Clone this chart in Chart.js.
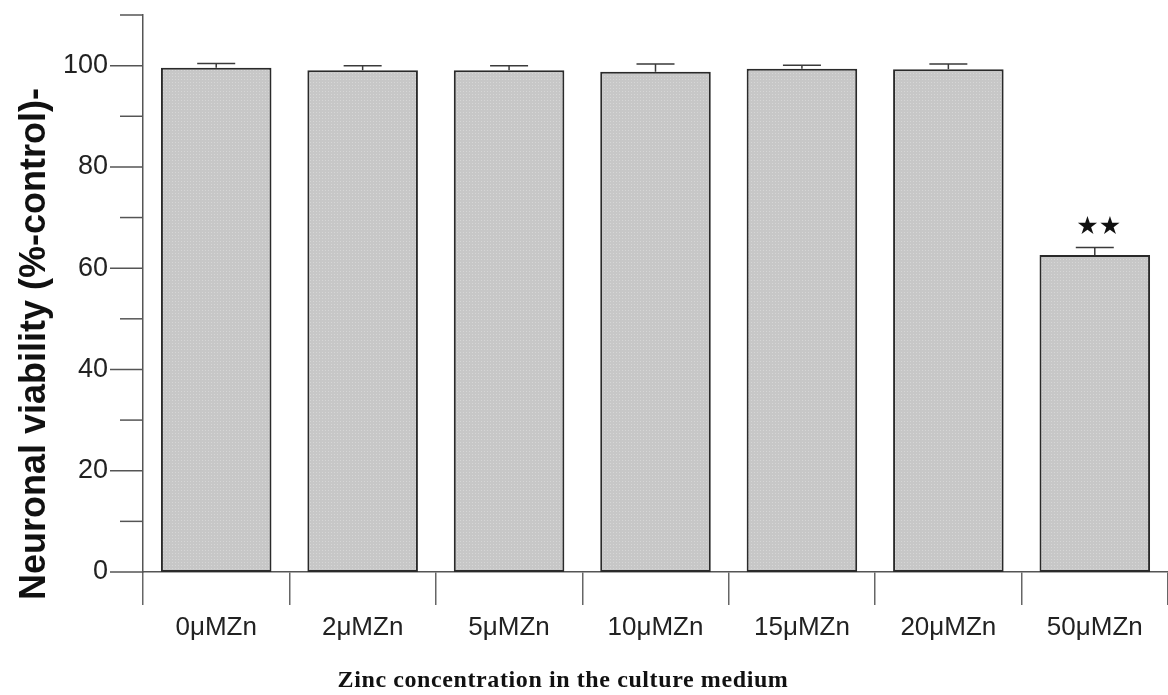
<!DOCTYPE html>
<html>
<head>
<meta charset="utf-8">
<script src="https://cdn.jsdelivr.net/npm/chart.js@4.4.1/dist/chart.umd.min.js"></script>
<style>
  html, body { margin: 0; padding: 0; background: #fff; }
  #wrap { width: 1168px; height: 695px; }
</style>
</head>
<body>
<div id="wrap"><canvas id="zincChart"></canvas></div>
<script>
// donnees
const categories = ["0μMZn", "2μMZn", "5μMZn", "10μMZn", "15μMZn", "20μMZn", "50μMZn"];
const viability = [99.6, 99.1, 99.1, 98.8, 99.4, 99.3, 62.6];
const sem = [0.8, 0.9, 0.9, 1.5, 0.7, 1.0, 1.5];
const significance = ["", "", "", "", "", "", "★★"];
const yTicks = [0, 10, 20, 30, 40, 50, 60, 70, 80, 90, 100, 110];
const yLabelTicks = [0, 20, 40, 60, 80, 100];

const yTitle = "Neuronal viability (%-control)-";
const xTitle = "Zinc concentration in the culture medium";

// petit motif pointille pour le remplissage des barres
function makePattern() {
  const c = document.createElement("canvas");
  c.width = 3;
  c.height = 3;
  const g = c.getContext("2d");
  g.fillStyle = "#c7c7c7";
  g.fillRect(0, 0, 3, 3);
  g.fillStyle = "#d6d6d6";
  g.fillRect(1, 1, 1, 1);
  return g.createPattern(c, "repeat");
}

// graduations de l'axe Y (majeures longues, mineures courtes)
const yTickMarks = {
  id: "yTickMarks",
  afterDraw(chart) {
    const ctx = chart.ctx;
    const y = chart.scales.y;
    const left = chart.chartArea.left;
    ctx.save();
    ctx.strokeStyle = "#555";
    ctx.lineWidth = 1.5;
    yTicks.forEach(function(v) {
      const py = y.getPixelForValue(v);
      const len = yLabelTicks.includes(v) ? 33 : 23;
      ctx.beginPath();
      ctx.moveTo(left - len, py);
      ctx.lineTo(left, py);
      ctx.stroke();
    });
    ctx.restore();
  }
};

// barres d'erreur + etoiles
const errorBars = {
  id: "errorBars",
  afterDatasetsDraw(chart) {
    const ctx = chart.ctx;
    const y = chart.scales.y;
    const meta = chart.getDatasetMeta(0);
    ctx.save();
    ctx.strokeStyle = "#3a3a3a";
    ctx.lineWidth = 1.5;
    meta.data.forEach(function(bar, i) {
      const yv = y.getPixelForValue(viability[i]);
      const ye = y.getPixelForValue(viability[i] + sem[i]);
      ctx.beginPath();
      ctx.moveTo(bar.x, yv);
      ctx.lineTo(bar.x, ye);
      ctx.moveTo(bar.x - 19, ye);
      ctx.lineTo(bar.x + 19, ye);
      ctx.stroke();
      if (significance[i]) {
        ctx.fillStyle = "#111";
        ctx.font = "25px 'DejaVu Sans'";
        ctx.textAlign = "center";
        ctx.textBaseline = "middle";
        ctx.fillText(significance[i], bar.x + 4, ye - 20);
      }
    });
    ctx.restore();
  }
};

// titres des axes
const axisTitles = {
  id: "axisTitles",
  afterDraw(chart) {
    const ctx = chart.ctx;
    ctx.save();
    ctx.fillStyle = "#111";
    ctx.textAlign = "center";
    ctx.textBaseline = "middle";
    ctx.font = "bold 36px 'Liberation Sans', Arial, sans-serif";
    ctx.translate(35, 344);
    ctx.rotate(-Math.PI / 2);
    ctx.fillText(yTitle, 0, 0);
    ctx.restore();

    ctx.save();
    ctx.fillStyle = "#111";
    ctx.textAlign = "center";
    ctx.textBaseline = "middle";
    ctx.font = "bold 24px 'Liberation Serif', serif";
    ctx.letterSpacing = "0.6px";
    ctx.fillText(xTitle, 563, 681);
    ctx.restore();
  }
};

const ctx = document.getElementById("zincChart").getContext("2d");

const zincChart = new Chart(ctx, {
  type: "bar",
  data: {
    labels: categories,
    datasets: [{
      label: "Neuronal viability",
      data: viability,
      backgroundColor: makePattern(),
      borderColor: "#2a2a2a",
      borderWidth: 2,
      borderSkipped: false,
      categoryPercentage: 1,
      barPercentage: 0.755
    }]
  },
  options: {
    responsive: true,
    maintainAspectRatio: false,
    animation: false,
    devicePixelRatio: 1,
    layout: { padding: { top: 15, left: 0, right: 0, bottom: 0 } },
    plugins: {
      legend: { display: false },
      tooltip: { enabled: false },
      title: { display: false }
    },
    scales: {
      x: {
        grid: {
          display: true,
          drawOnChartArea: false,
          drawTicks: true,
          tickLength: 33,
          offset: true,
          color: "#666",
          lineWidth: 1.5
        },
        border: { display: true, color: "#555", width: 1.5 },
        ticks: {
          color: "#222",
          padding: 7,
          font: { family: "'Liberation Sans', Arial, sans-serif", size: 26 }
        },
        afterFit: function(scale) { scale.height = 123; }
      },
      y: {
        min: 0,
        max: 110,
        grid: { display: false, drawTicks: false },
        border: { display: true, color: "#555", width: 1.5 },
        ticks: {
          stepSize: 10,
          padding: 35,
          color: "#222",
          font: { family: "'Liberation Sans', Arial, sans-serif", size: 27 },
          callback: function(value) {
            return yLabelTicks.includes(value) ? String(value) : null;
          }
        },
        afterFit: function(scale) {
          scale.width = 143;
          scale.paddingTop = 0;
          scale.paddingBottom = 0;
        }
      }
    }
  },
  plugins: [yTickMarks, errorBars, axisTitles]
});
</script>
</body>
</html>
